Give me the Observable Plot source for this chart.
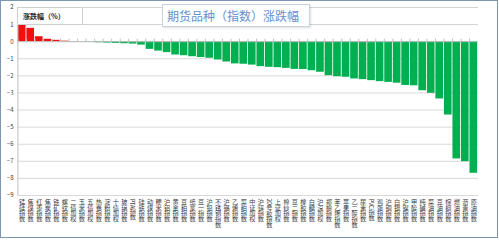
<!DOCTYPE html>
<html><head><meta charset="utf-8">
<script src="https://cdn.jsdelivr.net/npm/d3@7"></script>
<script src="https://cdn.jsdelivr.net/npm/@observablehq/plot@0.6"></script>
<style>
body{margin:0;background:#fff;}
#wrap{position:relative;width:499px;height:243px;overflow:hidden;font-family:"Noto Sans CJK SC","Noto Sans",sans-serif;background:#fff;}
#wrap svg{position:absolute;left:0;top:0;}
.box{position:absolute;box-sizing:border-box;background:#fff;}
#frame{position:absolute;left:0;top:0;width:498px;height:238px;box-sizing:border-box;border:1.5px solid #7d94b3;pointer-events:none;}
</style></head><body><div id="wrap"></div>
<script>
const names = ["锰硅指数","焦煤指数","红枣指数","焦炭指数","铁矿指数","螺纹指数","二债加权","玉米指数","五债加权","热卷指数",
"淀粉指数","十债加权","玻璃指数","PTA指数","硅铁指数","动煤指数","粳米指数","沪铝指数","黄金指数","豆粕指数",
"纸浆指数","豆一指数","沪铅指数","不锈钢指数","沪锡指数","乙烯指数","菜粕指数","中证加权","沪锌指数","20号胶指数",
"上证加权","棉纱指数","豆二指数","橡胶指数","白糖指数","沪深加权","郑棉指数","苯乙烯指数","苹果指数","乙二醇指数",
"尿素指数","PVC指数","鸡蛋指数","沪铜指数","白银指数","沪镍指数","甲醇指数","纯碱指数","菜油指数","豆油指数",
"棕榈指数","燃油指数","沥青指数","原油指数"];
const values = [1.02,0.78,0.29,0.14,0.08,0.03,0.01,0.01,-0.02,-0.06,
-0.08,-0.10,-0.12,-0.14,-0.20,-0.45,-0.55,-0.64,-0.78,-0.82,
-0.88,-0.93,-0.97,-1.07,-1.19,-1.30,-1.32,-1.37,-1.46,-1.50,
-1.52,-1.56,-1.62,-1.63,-1.70,-1.79,-1.99,-2.05,-2.08,-2.18,
-2.22,-2.28,-2.34,-2.38,-2.43,-2.56,-2.58,-2.87,-3.02,-3.35,
-4.29,-6.86,-7.02,-7.70];
const yTicks = [-9,-8,-7,-6,-5,-4,-3,-2,-1,0,1,2];
const titleText = "期货品种（指数）涨跌幅";
const legendText = "涨跌幅（%）";

const data = names.map((n,i)=>({name:n,value:values[i]}));
const W=499, ML=17, MR=21;
const step = (W-ML-MR)/(names.length+0.1);
const chart = Plot.plot({
  width:W, height:243,
  marginLeft:ML, marginRight:MR, marginTop:7, marginBottom:48,
  style:{background:"transparent", fontFamily:"'Noto Sans CJK SC',sans-serif"},
  x:{domain:names, padding:0.1, round:false, axis:null},
  y:{domain:[-9,2], axis:null},
  color:{type:"identity"},
  marks:[
    Plot.gridY(yTicks,{stroke:"#d9d9d9", strokeOpacity:1}),
    Plot.barY(data,{x:"name", y:"value", fill:d=>d.value>=0?"#f01010":"#00b050"}),
    Plot.ruleY([0],{stroke:"#bfbfbf"}),
    Plot.ruleX(names,{x:d=>d, y1:0, y2:0.15, stroke:"#bfbfbf", dx:-step/2}),
    Plot.ruleX([names[0]],{x:d=>d, y1:-9, y2:2, stroke:"#bfbfbf", dx:-step/2}),
    Plot.axisY(yTicks,{tickSize:0, tickPadding:4, fontSize:6, fill:"#404040", label:null}),
    Plot.text(data,{x:"name", text:"name", frameAnchor:"bottom", dy:3, textAnchor:"start", fontSize:6.2, fill:"#404040"})
  ]
});
const nameSet = new Set(names);
d3.select(chart).selectAll("text")
  .filter(function(){ return nameSet.has(this.textContent); })
  .attr("dy", null)
  .style("writing-mode","vertical-rl")
  .style("text-orientation","mixed")
  .style("letter-spacing","-0.5px");
const wrap = document.getElementById("wrap");
wrap.appendChild(chart);

function box(l,t,w,h,css,html){
  const d=document.createElement("div");
  d.className="box";
  d.style.cssText=`left:${l}px;top:${t}px;width:${w}px;height:${h}px;`+css;
  if(html) d.textContent=html;
  wrap.appendChild(d);
  return d;
}
box(17,7,461,18,"border-top:1px solid #d4d4d4;border-bottom:1px solid #d4d4d4;");
box(17,7,66,18,"border:1px solid #cfcfcf;font-size:7px;font-weight:bold;color:#222;line-height:16px;padding-left:5px;",legendText);
box(162,4,148,23,"border:1px solid #c9d2de;box-shadow:1px 1px 2px rgba(0,0,0,0.12);font-size:12px;color:#6690cf;line-height:21px;padding-left:4px;white-space:nowrap;",titleText);
const fr=document.createElement("div"); fr.id="frame"; wrap.appendChild(fr);
</script></body></html>
